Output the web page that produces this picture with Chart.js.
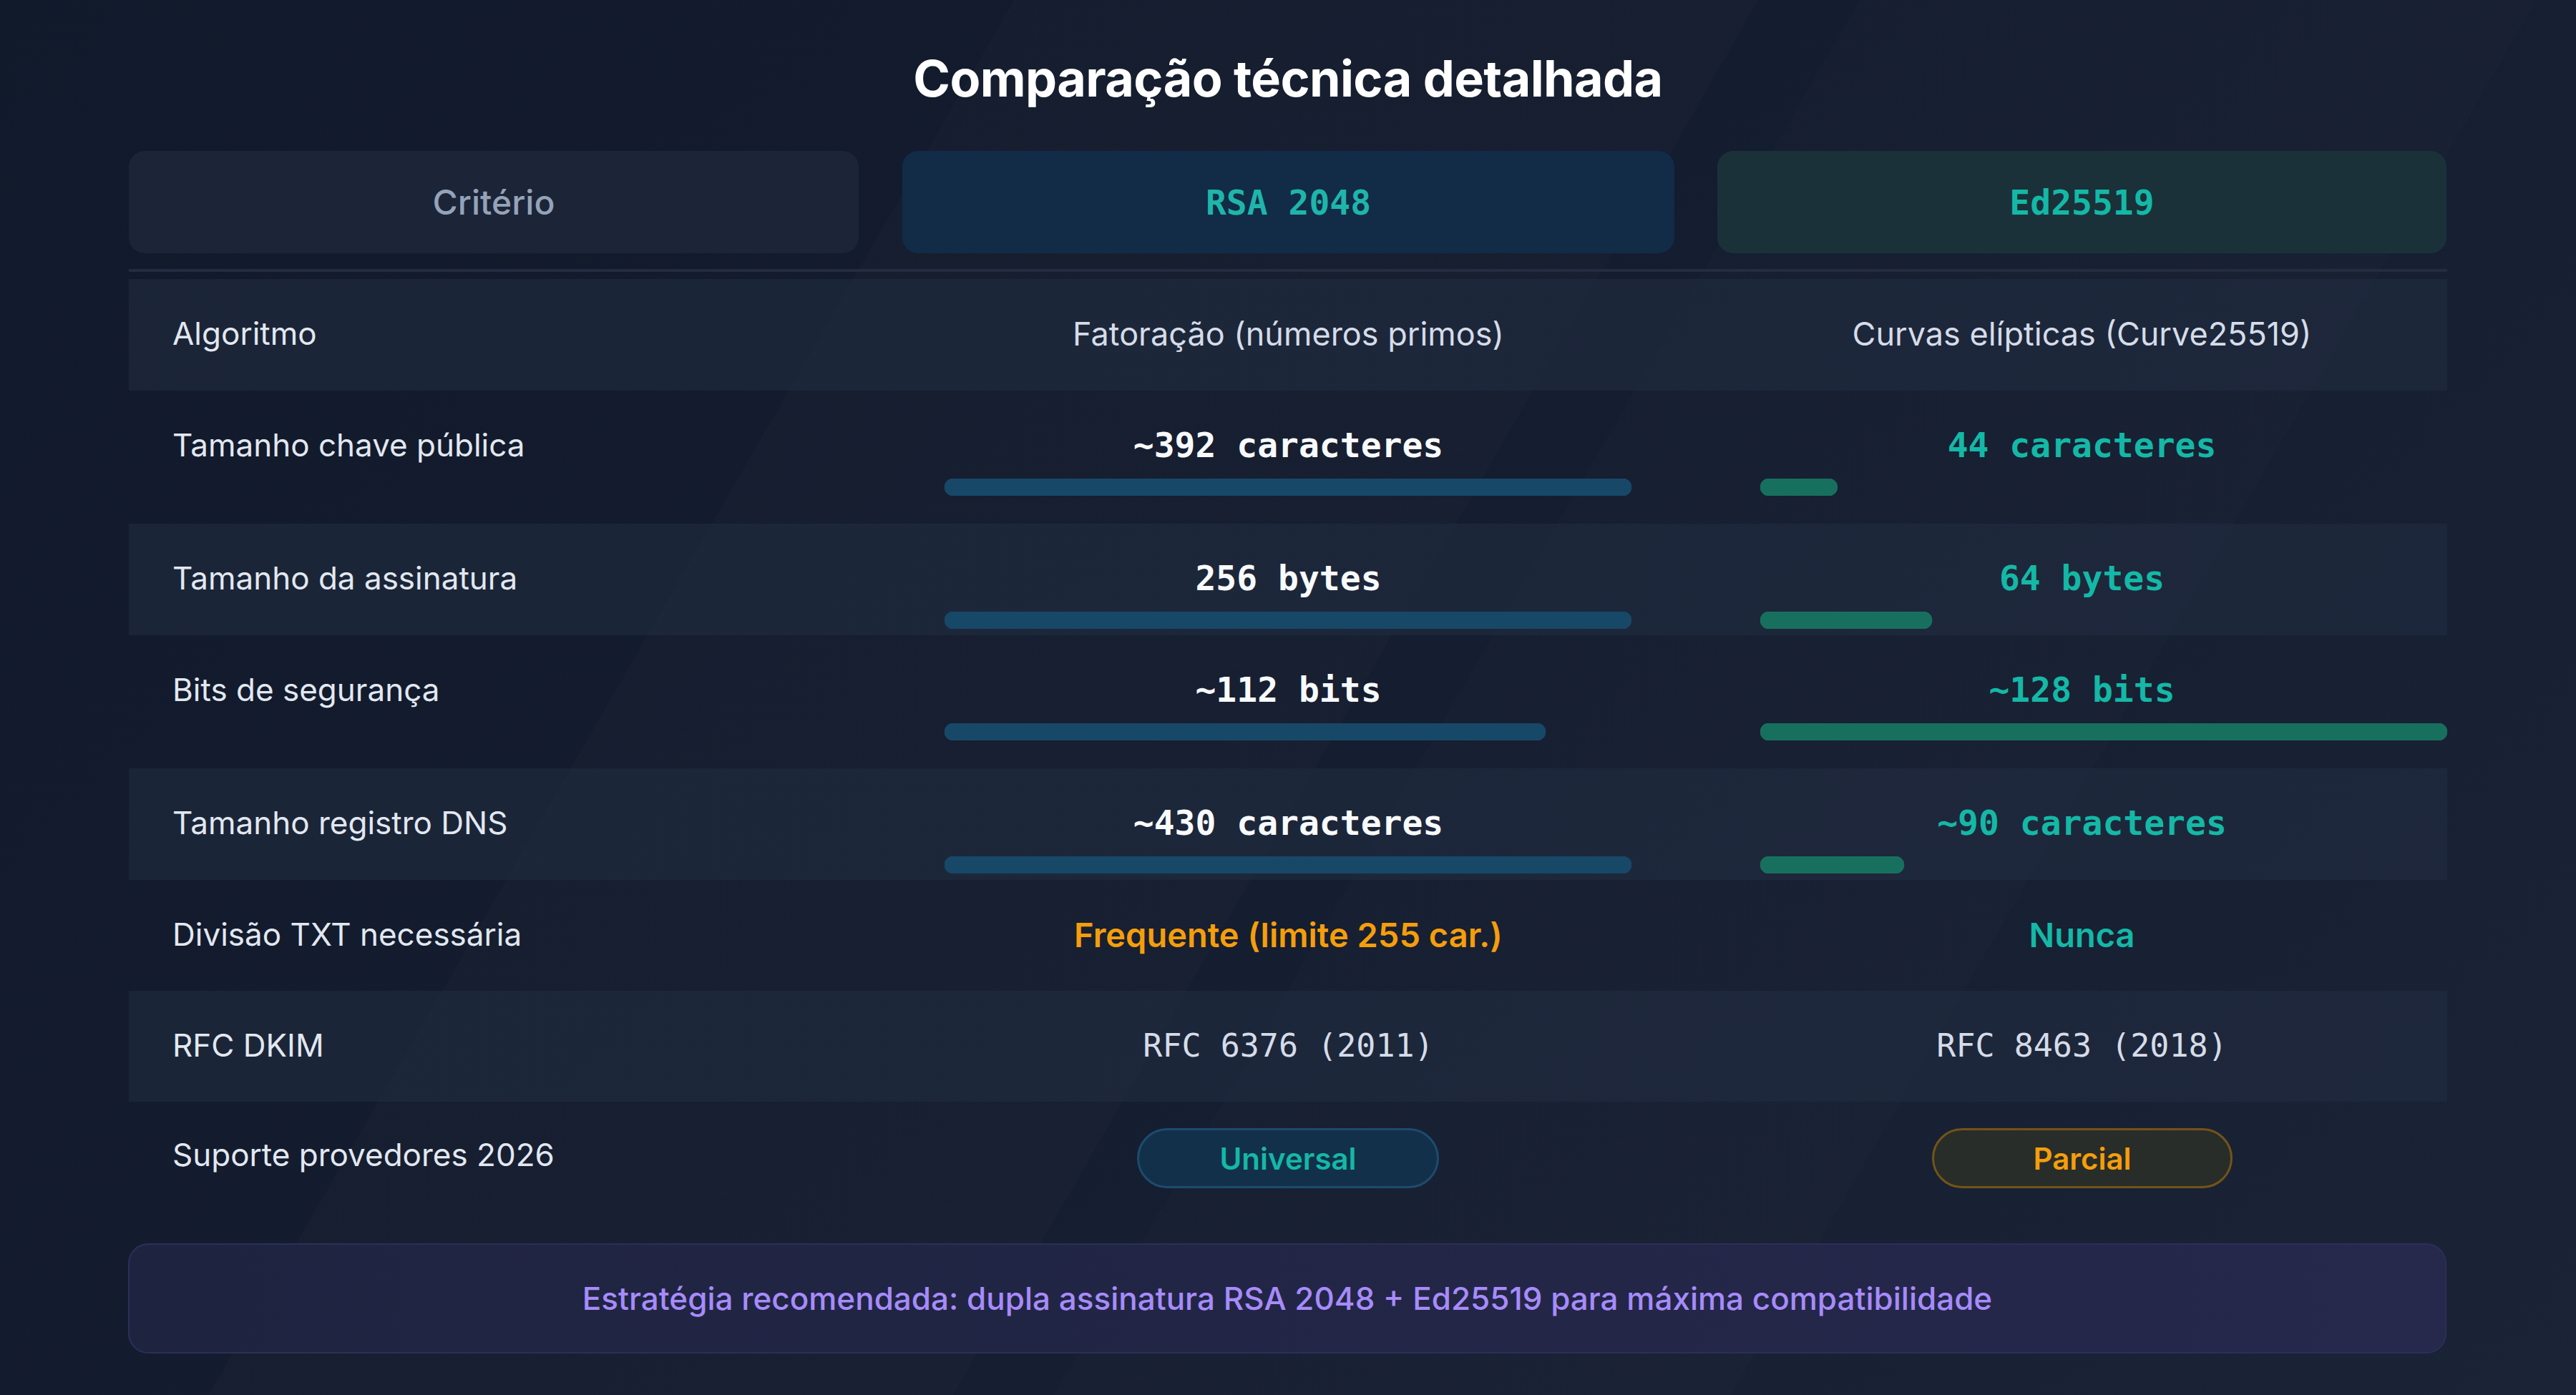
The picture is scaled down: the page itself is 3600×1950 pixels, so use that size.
<!DOCTYPE html>
<html lang="pt-BR">
<head>
<meta charset="utf-8">
<title>Comparação técnica detalhada</title>
<script src="https://cdn.jsdelivr.net/npm/chart.js@4.4.1/dist/chart.umd.min.js"></script>
<style>
    html, body { margin: 0; padding: 0; }
    body {
        width: 3600px; height: 1950px; overflow: hidden; position: relative;
        font-family: Inter, "Noto Sans", sans-serif;
        background:
            linear-gradient(120deg, rgba(255,255,255,0) 0%, rgba(255,255,255,0) 30%, rgba(255,255,255,0.01) 30%, rgba(255,255,255,0.01) 52%, rgba(255,255,255,0) 52%),
            linear-gradient(120deg, rgba(255,255,255,0) 55%, rgba(255,255,255,0.009) 55%, rgba(255,255,255,0.009) 75%, rgba(255,255,255,0) 75%),
            linear-gradient(135deg, #111a2b 0%, #141c2f 45%, #1b2336 100%);
    }
    .abs { position: absolute; }
    #titre { left: 0; width: 3600px; top: 67px; text-align: center; color: #fff;
        font-size: 70px; font-weight: 700; letter-spacing: -0.6px; }
    .entete { top: 211px; height: 143px; border-radius: 22px; display: flex;
        align-items: center; justify-content: center; font-size: 48px; }
    .mono { font-family: "DejaVu Sans Mono", "Liberation Mono", monospace; }
    .ligne { left: 180px; width: 3240px; }
    .clair { background: rgba(35, 45, 66, 0.55); }
    .cell { display: flex; align-items: center; height: 60px; margin-top: -30px; white-space: nowrap; }
    .lib { left: 241px; font-size: 44px; color: #e2e8f0; }
    .col { justify-content: center; }
    .pilule { height: 84px; border-radius: 42px; border: 3px solid; display: flex;
        align-items: center; justify-content: center; font-size: 42px; font-weight: 600; box-sizing: border-box; }
    #conseil { left: 179px; width: 3240px; top: 1738px; height: 154px; border-radius: 28px;
        box-sizing: border-box; border: 2px solid #2a3058;
        background: linear-gradient(90deg, #1e2440 0%, #232647 60%, #26284c 100%);
        display: flex; align-items: center; justify-content: center;
        color: #a78bfa; font-size: 44px; font-weight: 500; }
</style>
</head>
<body>
<div id="titre" class="abs">Comparação técnica detalhada</div>
<div id="page"></div>

<script>
// Données du tableau
const criterios = ['Algoritmo', 'Tamanho chave pública', 'Tamanho da assinatura', 'Bits de segurança',
    'Tamanho registro DNS', 'Divisão TXT necessária', 'RFC DKIM', 'Suporte provedores 2026'];
const colunas = ['RSA 2048', 'Ed25519'];
const rsaTextos = ['Fatoração (números primos)', '~392 caracteres', '256 bytes', '~112 bits',
    '~430 caracteres', 'Frequente (limite 255 car.)', 'RFC 6376 (2011)', 'Universal'];
const edTextos = ['Curvas elípticas (Curve25519)', '44 caracteres', '64 bytes', '~128 bits',
    '~90 caracteres', 'Nunca', 'RFC 8463 (2018)', 'Parcial'];
const rsaValores = [null, 392, 256, 112, 430, null, null, null];
const edValores = [null, 44, 64, 128, 90, null, null, null];
const recomendacao = 'Estratégia recomendada: dupla assinatura RSA 2048 + Ed25519 para máxima compatibilidade';

// Mise en page (pixels)
const hautLignes = [390, 546, 732, 888, 1074, 1230, 1385, 1538];
const hauteurs = [156, 186, 156, 186, 156, 155, 155, 180];
const colRsa = { left: 1261, width: 1079, barre: 1320 };
const colEd = { left: 2400, width: 1019, barre: 2460 };
const largeurBarre = 960;

const page = document.getElementById('page');

function ajouter(cls, styles, texte) {
    const el = document.createElement('div');
    el.className = 'abs ' + cls;
    Object.assign(el.style, styles);
    if (texte !== undefined) el.textContent = texte;
    page.appendChild(el);
    return el;
}

// En-têtes
ajouter('entete', { left: '180px', width: '1020px', background: '#1c2438', color: '#94a3b8', fontWeight: '500' }, 'Critério');
ajouter('entete mono', { left: colRsa.left + 'px', width: colRsa.width + 'px', background: '#122b46', color: '#1fb5aa', fontWeight: '700' }, colunas[0]);
ajouter('entete mono', { left: colEd.left + 'px', width: colEd.width + 'px', background: '#1a313a', color: '#14b8a6', fontWeight: '700' }, colunas[1]);
ajouter('', { left: '180px', width: '3240px', top: '376px', height: '4px', background: '#232c40' });

function styleTexte(i, cote) {
    const mono = "'DejaVu Sans Mono', 'Liberation Mono', monospace";
    if (i === 0) return { color: '#d5dce8', fontSize: '45px' };
    if (i >= 1 && i <= 4) return { color: cote === 'rsa' ? '#f8fafc' : '#14b8a6', fontFamily: mono, fontWeight: '700', fontSize: '48px' };
    if (i === 5) return { color: cote === 'rsa' ? '#f59e0b' : '#14b8a6', fontWeight: '600', fontSize: '47px' };
    if (i === 6) return { color: '#d5dce8', fontFamily: mono, fontSize: '45px' };
    return {};
}

criterios.forEach((crit, i) => {
    const top = hautLignes[i];
    if (i % 2 === 0 && i < 7) {
        ajouter('ligne clair', { top: top + 'px', height: hauteurs[i] + 'px' });
    }
    const yTexte = top + 76;
    ajouter('cell lib', { top: yTexte + 'px' }, crit);

    if (i === 7) {
        ajouter('pilule', { left: '1589px', width: '422px', top: '1577px', background: '#13304a', borderColor: '#1d4b6e', color: '#14b8a6' }, rsaTextos[i]);
        ajouter('pilule', { left: '2700px', width: '420px', top: '1577px', background: '#282d29', borderColor: '#735417', color: '#f59e0b' }, edTextos[i]);
        return;
    }
    ajouter('cell col', Object.assign({ left: colRsa.left + 'px', width: colRsa.width + 'px', top: yTexte + 'px' }, styleTexte(i, 'rsa')), rsaTextos[i]);
    ajouter('cell col', Object.assign({ left: colEd.left + 'px', width: colEd.width + 'px', top: yTexte + 'px' }, styleTexte(i, 'ed')), edTextos[i]);
});

const conseil = document.createElement('div');
conseil.id = 'conseil';
conseil.className = 'abs';
conseil.textContent = recomendacao;
page.appendChild(conseil);

// Barres (Chart.js) : chaque ligne est normalisée sur son maximum
function barre(x, y, valeur, maxi, couleur) {
    const canvas = document.createElement('canvas');
    canvas.width = largeurBarre;
    canvas.height = 24;
    canvas.className = 'abs';
    canvas.style.left = x + 'px';
    canvas.style.top = (y - 12) + 'px';
    page.appendChild(canvas);
    new Chart(canvas.getContext('2d'), {
        type: 'bar',
        data: {
            labels: [''],
            datasets: [{
                data: [valeur],
                backgroundColor: couleur,
                borderRadius: 12,
                borderSkipped: false,
                barThickness: 24
            }]
        },
        options: {
            indexAxis: 'y',
            responsive: false,
            animation: false,
            layout: { padding: 0 },
            plugins: { legend: { display: false }, tooltip: { enabled: false } },
            scales: {
                x: { display: false, min: 0, max: maxi },
                y: { display: false }
            }
        }
    });
}

criterios.forEach((crit, i) => {
    if (rsaValores[i] === null) return;
    const maxi = Math.max(rsaValores[i], edValores[i]);
    const yBarre = hautLignes[i] + 135;
    barre(colRsa.barre, yBarre, rsaValores[i], maxi, '#174868');
    barre(colEd.barre, yBarre, edValores[i], maxi, '#17705e');
});
</script>
</body>
</html>
